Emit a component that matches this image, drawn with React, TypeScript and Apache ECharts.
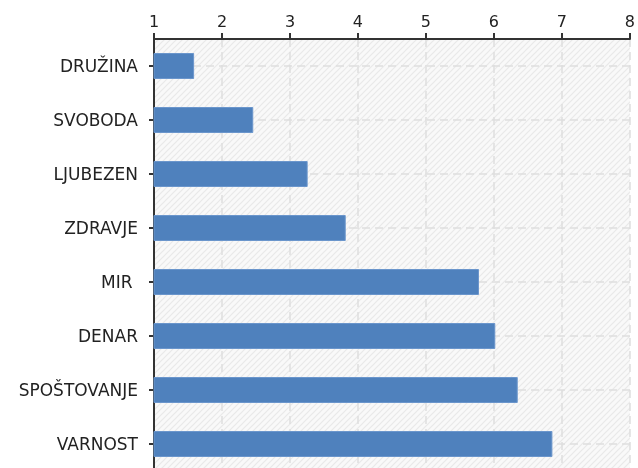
import React, { useEffect, useRef } from "react";
import * as echarts from "echarts";

const categories = ["DRUŽINA", "SVOBODA", "LJUBEZEN", "ZDRAVJE", "MIR ", "DENAR", "SPOŠTOVANJE", "VARNOST"];
const values = [1.59, 2.46, 3.26, 3.82, 5.78, 6.02, 6.35, 6.86];
const xTicks = [1, 2, 3, 4, 5, 6, 7, 8];

const hatch =
  "data:image/svg+xml;charset=utf-8," +
  encodeURIComponent(
    '<svg xmlns="http://www.w3.org/2000/svg" width="6" height="6"><rect width="6" height="6" fill="#f9f9f9"/><path d="M0,6 L6,0 M-1,1 L1,-1 M5,7 L7,5" stroke="#e9e9e9" stroke-width="1.2"/></svg>'
  );

export default function App() {
  const ref = useRef<HTMLDivElement>(null);
  useEffect(() => {
    if (!ref.current) return;
    const chart = echarts.init(ref.current, undefined, { renderer: "svg" });
    const img = new Image();
    img.src = hatch;
    chart.setOption({
      animation: false,
      grid: {
        left: 154,
        top: 39,
        width: 480,
        height: 432,
        show: true,
        borderWidth: 0,
        backgroundColor: { image: img, repeat: "repeat" },
      },
      xAxis: {
        type: "value",
        position: "top",
        min: xTicks[0],
        max: xTicks[xTicks.length - 1],
        interval: 1,
        axisLine: { show: true, lineStyle: { color: "#333", width: 2 } },
        axisTick: { show: true, length: 6, lineStyle: { color: "#333", width: 2 } },
        axisLabel: {
          margin: 10,
          fontFamily: "DejaVu Sans",
          fontSize: 16,
          color: "#222",
          formatter: (v: number) => String(v),
        },
        splitLine: { show: true, lineStyle: { color: "#dedede", type: [8, 5], width: 1.5 } },
      },
      yAxis: {
        type: "category",
        data: categories,
        inverse: true,
        axisLine: { show: true, lineStyle: { color: "#333", width: 2 } },
        axisTick: { show: true, alignWithLabel: true, length: 5, lineStyle: { color: "#333", width: 2 } },
        axisLabel: {
          margin: 16,
          fontFamily: "DejaVu Sans",
          fontSize: 17,
          color: "#222",
        },
        splitLine: { show: false },
      },
      series: [
        {
          type: "bar",
          data: values,
          barWidth: 26,
          itemStyle: { color: "#4f81bd", borderColor: "#6b96cc", borderWidth: 1 },
          z: 3,
          markLine: {
            silent: true,
            symbol: "none",
            z: 1,
            label: { show: false },
            lineStyle: { color: "#dedede", type: [8, 5], width: 1.5 },
            data: categories.map((c) => ({ yAxis: c })),
          },
        },
      ],
    });
    return () => chart.dispose();
  }, []);
  return (
    <div
      ref={ref}
      style={{ position: "fixed", left: 0, top: 0, width: 638, height: 480 }}
    />
  );
}
